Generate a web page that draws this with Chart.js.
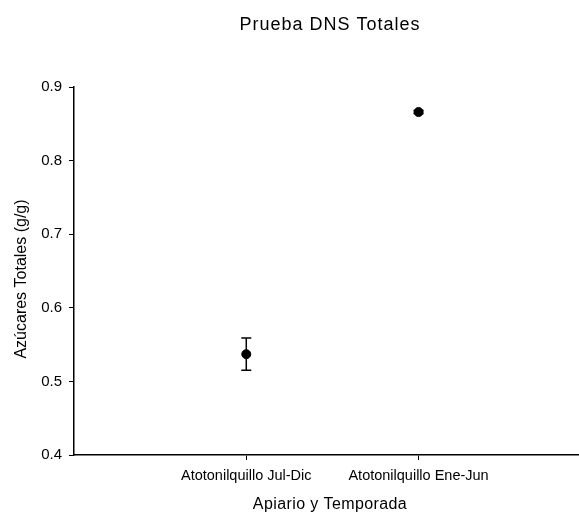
<!DOCTYPE html>
<html>
<head>
<meta charset="utf-8">
<script src="https://cdn.jsdelivr.net/npm/chart.js@4.4.1/dist/chart.umd.min.js"></script>
<style>
  html, body { margin: 0; padding: 0; background: #fff; overflow: hidden; }
  #wrap { position: relative; width: 579px; height: 514px; overflow: hidden; }
  #c { display: block; }
</style>
</head>
<body>
<div id="wrap"><canvas id="c" width="586" height="514"></canvas></div>
<script>
// Azúcares totales por apiario y temporada (media ± error)
const categories = ["Atotonilquillo Jul-Dic", "Atotonilquillo Ene-Jun"];
const means = [0.537, 0.866];
const errors = [0.022, 0.002];
const yTicks = [0.4, 0.5, 0.6, 0.7, 0.8, 0.9];

const chartTitle = "Prueba DNS Totales";
const xTitle = "Apiario y Temporada";
const yTitle = "Azúcares Totales (g/g)";

const FONT = "'Liberation Sans', Arial, sans-serif";
const INK = "#000";

// error bars drawn on the library's scales
const errorBars = {
  id: "errorBars",
  afterDatasetsDraw(chart) {
    const { ctx, scales: { x, y } } = chart;
    ctx.save();
    ctx.strokeStyle = "#000";
    ctx.lineWidth = 1.5;
    means.forEach((m, i) => {
      const px = x.getPixelForValue(i + 1);
      const top = y.getPixelForValue(m + errors[i]);
      const bot = y.getPixelForValue(m - errors[i]);
      ctx.beginPath();
      ctx.moveTo(px, top); ctx.lineTo(px, bot);
      ctx.moveTo(px - 5, top); ctx.lineTo(px + 5, top);
      ctx.moveTo(px - 5, bot); ctx.lineTo(px + 5, bot);
      ctx.stroke();
    });
    ctx.restore();
  }
};

// chart title and axis titles
const titles = {
  id: "titles",
  afterDraw(chart) {
    const ctx = chart.ctx;
    ctx.save();
    ctx.fillStyle = INK;
    ctx.textAlign = "center";
    ctx.textBaseline = "alphabetic";
    ctx.letterSpacing = "1px";
    ctx.font = "18px " + FONT;
    ctx.fillText(chartTitle, 330, 30);
    ctx.letterSpacing = "0.4px";
    ctx.font = "16px " + FONT;
    ctx.fillText(xTitle, 330, 509);
    ctx.letterSpacing = "0px";
    ctx.translate(26, 279);
    ctx.rotate(-Math.PI / 2);
    ctx.fillText(yTitle, 0, 0);
    ctx.restore();
  }
};

new Chart(document.getElementById("c"), {
  type: "scatter",
  data: {
    datasets: [{
      data: means.map((m, i) => ({ x: i + 1, y: m })),
      backgroundColor: "#000",
      borderColor: "#000",
      pointRadius: 4.5,
      pointHoverRadius: 4.5
    }]
  },
  options: {
    responsive: false,
    animation: false,
    layout: { padding: { top: 87, right: 0, bottom: 0, left: 0 } },
    plugins: { legend: { display: false }, tooltip: { enabled: false }, title: { display: false } },
    scales: {
      x: {
        type: "linear",
        min: 0,
        max: 2.94,
        afterBuildTicks(scale) { scale.ticks = categories.map((_, i) => ({ value: i + 1 })); },
        afterFit(scale) { scale.height = 59; },
        ticks: {
          autoSkip: false,
          maxRotation: 0,
          padding: 7,
          color: INK,
          font: { family: FONT, size: 14.5 },
          callback: (v) => categories[v - 1]
        },
        grid: { drawOnChartArea: false, drawTicks: true, tickLength: 5, color: "#000" },
        border: { display: true, color: "#000", width: 1.5 }
      },
      y: {
        min: 0.4,
        max: 0.9,
        afterBuildTicks(scale) { scale.ticks = yTicks.map(v => ({ value: v })); },
        afterFit(scale) { scale.width = 74; },
        ticks: {
          padding: 7,
          color: INK,
          font: { family: FONT, size: 15 },
          callback: (v) => Number(v).toFixed(1)
        },
        grid: { drawOnChartArea: false, drawTicks: true, tickLength: 5, color: "#000" },
        border: { display: true, color: "#000", width: 1.5 }
      }
    }
  },
  plugins: [errorBars, titles]
});
</script>
</body>
</html>
